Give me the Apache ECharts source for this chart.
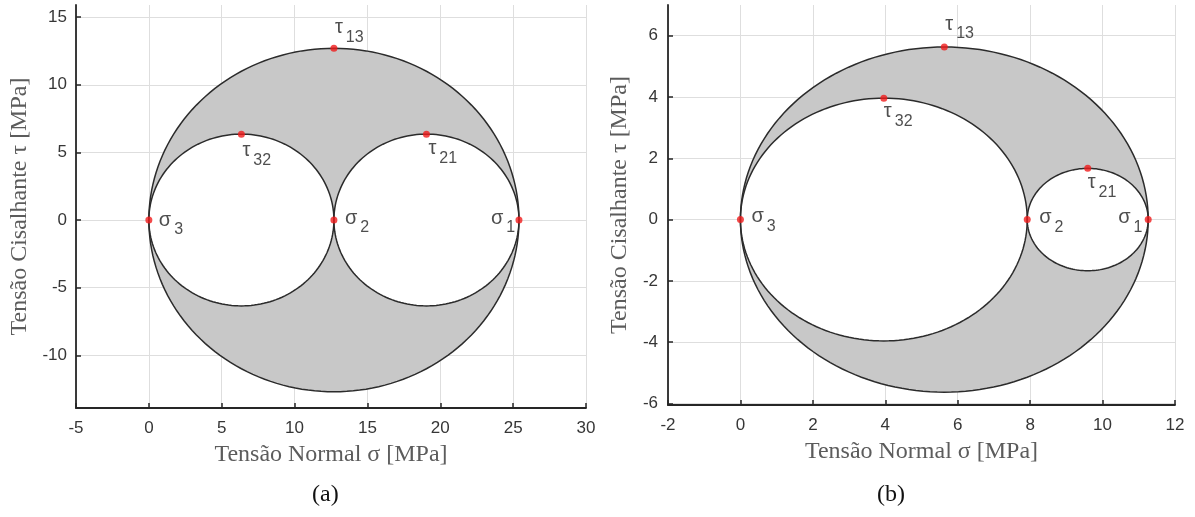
<!DOCTYPE html>
<html>
<head>
<meta charset="utf-8">
<script src="https://cdn.jsdelivr.net/npm/echarts@6/dist/echarts.min.js"></script>
<style>
  html, body { margin: 0; padding: 0; background: #fff; }
  #chart { width: 1195px; height: 517px; }
</style>
</head>
<body>
<div id="chart"></div>
<script>
// Principal stresses [MPa]: sigma1, sigma2, sigma3
const principalA = [25.4, 12.7, 0];
const principalB = [11.26, 7.92, 0];

// Axis extents and tick labels
const xRangeA = [-5, 30];
const yRangeA = [-13.9, 15.9];
const xTicksA = [-5, 0, 5, 10, 15, 20, 25, 30];
const yTicksA = [-10, -5, 0, 5, 10, 15];

const xRangeB = [-2, 12];
const yRangeB = [-6.05, 7];
const xTicksB = [-2, 0, 2, 4, 6, 8, 10, 12];
const yTicksB = [-6, -4, -2, 0, 2, 4, 6];

const panelCaptions = ['(a)', '(b)'];
const xTitle = 'Tensão Normal σ [MPa]';
const yTitle = 'Tensão Cisalhante τ [MPa]';

// Three Mohr circles [centre, radius, isOuter] from the principal stresses
function mohrCircles(p) {
  const [s1, s2, s3] = p;
  return [
    [(s1 + s3) / 2, (s1 - s3) / 2, 1],
    [(s3 + s2) / 2, (s2 - s3) / 2, 0],
    [(s2 + s1) / 2, (s1 - s2) / 2, 0]
  ];
}

// Principal stresses on the sigma axis and maximum shear points on top of each circle
function keyPoints(p) {
  const [s1, s2, s3] = p;
  return [
    { name: '1', kind: 's', value: [s1, 0] },
    { name: '2', kind: 's', value: [s2, 0] },
    { name: '3', kind: 's', value: [s3, 0] },
    { name: '13', kind: 't', value: [(s1 + s3) / 2, (s1 - s3) / 2] },
    { name: '32', kind: 't', value: [(s3 + s2) / 2, (s2 - s3) / 2] },
    { name: '21', kind: 't', value: [(s2 + s1) / 2, (s1 - s2) / 2] }
  ];
}

// Label placement (text top-left relative to the dot, px)
const labelOffsetA = { '1': [-28, -12], '2': [11, -12], '3': [10, -10], '13': [1, -31], '32': [1, 6], '21': [2, 4] };
const labelOffsetB = { '1': [-30, -12], '2': [12, -12], '3': [11, -13], '13': [1, -33], '32': [0, 3], '21': [0, 4] };

const GRAY = '#c8c8c8';
const EDGE = '#2b2b2b';
const DOT = '#f01c1c';
const SEG = 180;

function circlePoints(api) {
  const c = api.value(0), r = api.value(1);
  const pts = [];
  for (let i = 0; i <= SEG; i++) {
    const t = 2 * Math.PI * i / SEG;
    pts.push(api.coord([c + r * Math.cos(t), r * Math.sin(t)]));
  }
  return pts;
}

function renderFill(params, api) {
  return {
    type: 'polygon',
    shape: { points: circlePoints(api) },
    style: { fill: api.value(2) === 1 ? GRAY : '#ffffff', stroke: null }
  };
}

function renderEdge(params, api) {
  return {
    type: 'polygon',
    shape: { points: circlePoints(api) },
    style: { fill: null, stroke: EDGE, lineWidth: 1.5 }
  };
}

const DOT_SIZE = 7;
function pointData(p, offsets) {
  return keyPoints(p).map(d => {
    const o = offsets[d.name];
    const sym = d.kind === 's' ? 'σ' : 'τ';
    return {
      value: d.value,
      label: {
        show: true,
        position: [o[0] + DOT_SIZE / 2, o[1] + DOT_SIZE / 2],
        align: 'left',
        verticalAlign: 'top',
        formatter: '{g|' + sym + '}{s|' + d.name + '}'
      }
    };
  });
}

const labelRich = {
  g: { fontFamily: 'Liberation Sans', fontSize: 20, color: '#222', lineHeight: 20, verticalAlign: 'top' },
  s: { fontFamily: 'Liberation Sans', fontSize: 16, color: '#222', lineHeight: 40, padding: [0, 0, 0, 3] }
};

const TITLE_STYLE = { fontFamily: 'Liberation Serif', fontSize: 24, color: '#5c5c5c' };
const TICK_FONT = { fontFamily: 'Liberation Sans', fontSize: 17, color: '#363636' };

function xAxisCfg(idx, range, ticks) {
  return {
    type: 'value', gridIndex: idx, min: range[0], max: range[1],
    name: xTitle, nameLocation: 'middle', nameGap: 35,
    nameTextStyle: TITLE_STYLE,
    axisLine: { show: true, onZero: false, lineStyle: { color: '#262626', width: 1.8 } },
    axisTick: { show: true, inside: true, length: 5, customValues: ticks, lineStyle: { color: '#262626', width: 1.5 } },
    axisLabel: Object.assign({ customValues: ticks, margin: 12 }, TICK_FONT),
    splitLine: { show: true, lineStyle: { color: '#dedede', width: 1 } }
  };
}

function yAxisCfg(idx, range, ticks, gap, margin) {
  return {
    type: 'value', gridIndex: idx, min: range[0], max: range[1],
    name: yTitle, nameLocation: 'middle', nameGap: gap,
    nameTextStyle: TITLE_STYLE,
    axisLine: { show: true, onZero: false, lineStyle: { color: '#262626', width: 1.8 } },
    axisTick: { show: true, inside: true, length: 5, customValues: ticks, lineStyle: { color: '#262626', width: 1.5 } },
    axisLabel: Object.assign({ customValues: ticks, margin: margin }, TICK_FONT),
    splitLine: { show: true, lineStyle: { color: '#dedede', width: 1 } }
  };
}

function panelSeries(idx, p, offsets) {
  const circles = mohrCircles(p);
  return [
    { type: 'custom', xAxisIndex: idx, yAxisIndex: idx, renderItem: renderFill, data: circles, z: 2, silent: true },
    { type: 'custom', xAxisIndex: idx, yAxisIndex: idx, renderItem: renderEdge, data: circles, z: 3, silent: true },
    {
      type: 'scatter', xAxisIndex: idx, yAxisIndex: idx, z: 4,
      symbol: 'circle', symbolSize: DOT_SIZE,
      itemStyle: { color: DOT },
      label: { rich: labelRich },
      data: pointData(p, offsets)
    }
  ];
}

const chart = echarts.init(document.getElementById('chart'), null, { renderer: 'canvas' });
chart.setOption({
  animation: false,
  backgroundColor: '#ffffff',
  grid: [
    { left: 76, right: 609, top: 5, bottom: 109 },
    { left: 668, right: 20, top: 5, bottom: 112 }
  ],
  xAxis: [xAxisCfg(0, xRangeA, xTicksA), xAxisCfg(1, xRangeB, xTicksB)],
  yAxis: [yAxisCfg(0, yRangeA, yTicksA, 44, 9), yAxisCfg(1, yRangeB, yTicksB, 36, 10)],
  series: [].concat(panelSeries(0, principalA, labelOffsetA), panelSeries(1, principalB, labelOffsetB)),
  graphic: [
    { type: 'text', left: 312, top: 483, style: { text: panelCaptions[0], font: '24px "Liberation Serif"', fill: '#111' } },
    { type: 'text', left: 877, top: 483, style: { text: panelCaptions[1], font: '24px "Liberation Serif"', fill: '#111' } }
  ]
});
</script>
</body>
</html>
